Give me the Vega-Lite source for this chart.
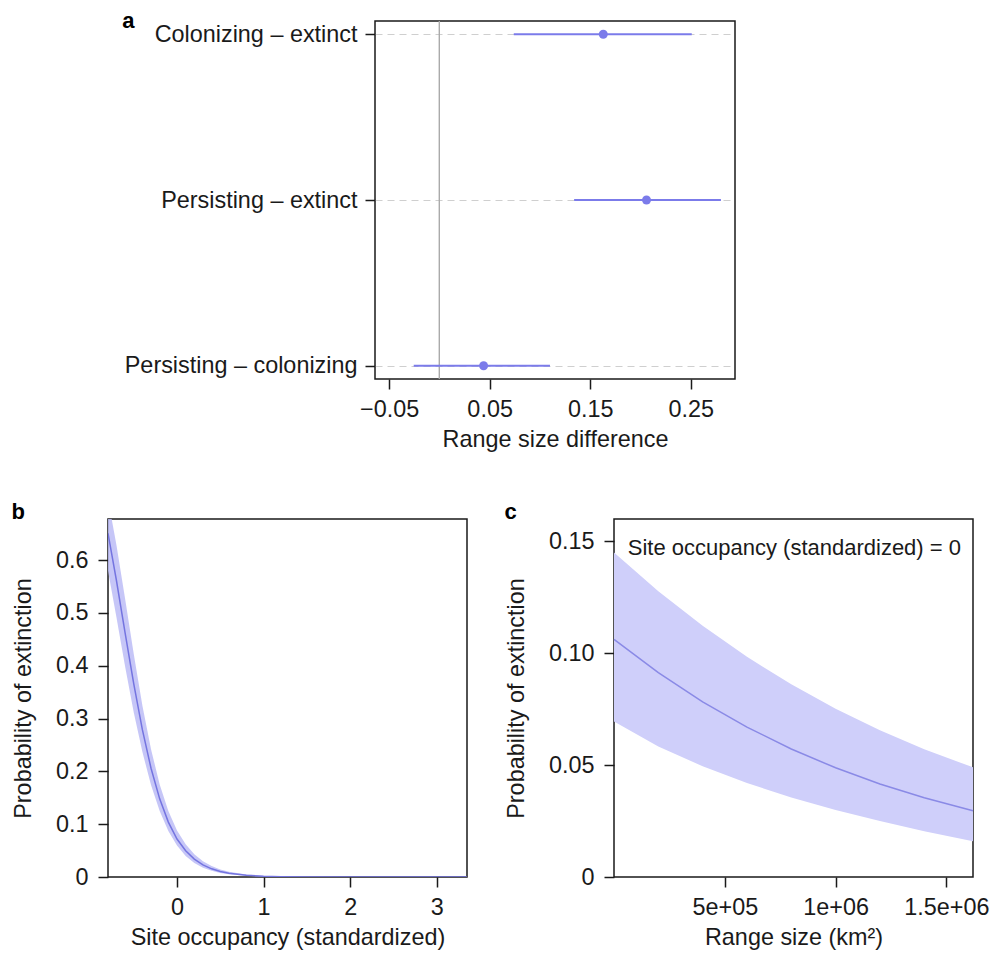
{
  "$schema": "https://vega.github.io/schema/vega-lite/v6.json",
  "padding": {"left": 10, "top": 8, "right": 0, "bottom": 0},
  "background": "white",
  "config": {
    "font": "Liberation Sans",
    "view": {"stroke": "#1a1a1a", "strokeWidth": 1.5},
    "axis": {
      "domain": false, "grid": false, "labelLimit": 0,
      "tickColor": "#1a1a1a", "tickWidth": 1.5, "tickSize": 10,
      "labelFont": "Liberation Sans", "labelFontSize": 23.4, "labelColor": "#1a1a1a",
      "titleFont": "Liberation Sans", "titleFontSize": 23.4, "titleFontWeight": "normal", "titleColor": "#1a1a1a"
    },
    "axisX": {"labelPadding": 9, "titlePadding": 8},
    "axisY": {"labelPadding": 10, "titlePadding": 20},
    "title": {"fontSize": 22, "fontWeight": "bold", "anchor": "start", "frame": "bounds", "color": "#000000", "baseline": "alphabetic", "font": "Liberation Sans"}
  },
  "spacing": 48,
  "vconcat": [
    {
      "spacing": 0,
      "hconcat": [
        {
          "width": 13, "height": 358,
          "view": {"stroke": null},
          "data": {"values": [{"t": ""}]},
          "mark": {"type": "text"},
          "encoding": {"text": {"field": "t"}}
        },
        {
          "width": 360, "height": 358,
          "title": {"text": "a", "offset": -12, "dx": -2},
          "data": {"values": [
            {"comp": "Colonizing – extinct", "est": 0.163, "lo": 0.074, "hi": 0.251},
            {"comp": "Persisting – extinct", "est": 0.206, "lo": 0.134, "hi": 0.280},
            {"comp": "Persisting – colonizing", "est": 0.044, "lo": -0.0255, "hi": 0.110}
          ]},
          "layer": [
            {
              "mark": {"type": "rule", "color": "#aaaaaa", "strokeWidth": 1},
              "encoding": {
                "x": {"datum": 0, "type": "quantitative", "scale": {"domain": [-0.064, 0.294], "nice": false, "zero": false},
                      "axis": {"values": [-0.05, 0.05, 0.15, 0.25], "format": ".2f", "title": "Range size difference"}}
              }
            },
            {
              "mark": {"type": "rule", "color": "#7b7bea", "strokeWidth": 2},
              "encoding": {
                "y": {"field": "comp", "type": "nominal", "sort": null,
                      "scale": {"type": "point", "padding": 0.08, "domain": ["Colonizing – extinct", "Persisting – extinct", "Persisting – colonizing"]},
                      "axis": {"title": null, "grid": true, "gridDash": [7, 5], "gridColor": "#cfcfcf", "gridWidth": 1, "labelPadding": 8}},
                "x": {"field": "lo", "type": "quantitative", "scale": {"domain": [-0.064, 0.294], "nice": false, "zero": false},
                      "axis": {"values": [-0.05, 0.05, 0.15, 0.25], "format": ".2f", "title": "Range size difference"}},
                "x2": {"field": "hi"}
              }
            },
            {
              "mark": {"type": "circle", "size": 80, "color": "#7b7bea", "opacity": 1},
              "encoding": {
                "y": {"field": "comp", "type": "nominal", "sort": null,
                      "scale": {"type": "point", "padding": 0.08, "domain": ["Colonizing – extinct", "Persisting – extinct", "Persisting – colonizing"]},
                      "axis": {"title": null, "grid": true, "gridDash": [7, 5], "gridColor": "#cfcfcf", "gridWidth": 1, "labelPadding": 8}},
                "x": {"field": "est", "type": "quantitative", "scale": {"domain": [-0.064, 0.294], "nice": false, "zero": false},
                      "axis": {"values": [-0.05, 0.05, 0.15, 0.25], "format": ".2f", "title": "Range size difference"}}
              }
            }
          ]
        }
      ]
    },
    {
      "spacing": 35,
      "hconcat": [
        {
          "width": 359, "height": 358,
          "title": {"text": "b", "offset": -5},
          "data": {"values": [
            {"x": -0.797, "p": 0.651, "lo": 0.580, "hi": 0.716},
            {"x": -0.7, "p": 0.562, "lo": 0.4925, "hi": 0.629},
            {"x": -0.6, "p": 0.463, "lo": 0.399, "hi": 0.5275},
            {"x": -0.5, "p": 0.366, "lo": 0.312, "hi": 0.423},
            {"x": -0.4, "p": 0.279, "lo": 0.237, "hi": 0.325},
            {"x": -0.3, "p": 0.206, "lo": 0.174, "hi": 0.242},
            {"x": -0.2, "p": 0.148, "lo": 0.125, "hi": 0.175},
            {"x": -0.1, "p": 0.104, "lo": 0.087, "hi": 0.125},
            {"x": 0.0, "p": 0.072, "lo": 0.0595, "hi": 0.0879},
            {"x": 0.1, "p": 0.0497, "lo": 0.0399, "hi": 0.0618},
            {"x": 0.2, "p": 0.0339, "lo": 0.0266, "hi": 0.0431},
            {"x": 0.3, "p": 0.0230, "lo": 0.0176, "hi": 0.0299},
            {"x": 0.4, "p": 0.0155, "lo": 0.0117, "hi": 0.0206},
            {"x": 0.5, "p": 0.0105, "lo": 0.0077, "hi": 0.0142},
            {"x": 0.6, "p": 0.0070, "lo": 0.0051, "hi": 0.0098},
            {"x": 0.8, "p": 0.0032, "lo": 0.0022, "hi": 0.0046},
            {"x": 1.0, "p": 0.0014, "lo": 0.0009, "hi": 0.0021},
            {"x": 1.2, "p": 0.0006, "lo": 0.0004, "hi": 0.0010},
            {"x": 1.5, "p": 0.0002, "lo": 0.0001, "hi": 0.0003},
            {"x": 2.0, "p": 0.0, "lo": 0.0, "hi": 0.0001},
            {"x": 2.5, "p": 0.0, "lo": 0.0, "hi": 0.0},
            {"x": 3.0, "p": 0.0, "lo": 0.0, "hi": 0.0},
            {"x": 3.35, "p": 0.0, "lo": 0.0, "hi": 0.0}
          ]},
          "encoding": {
            "x": {"field": "x", "type": "quantitative", "scale": {"domain": [-0.797, 3.35], "nice": false, "zero": false},
                  "axis": {"values": [0, 1, 2, 3], "title": "Site occupancy (standardized)"}}
          },
          "layer": [
            {
              "mark": {"type": "area", "color": "#bcbcf6", "opacity": 0.85, "clip": true},
              "encoding": {
                "y": {"field": "lo", "type": "quantitative", "scale": {"domain": [0, 0.678], "nice": false},
                      "axis": {"values": [0, 0.1, 0.2, 0.3, 0.4, 0.5, 0.6], "labelExpr": "datum.value === 0 ? '0' : format(datum.value, '.1f')", "title": "Probability of extinction"}},
                "y2": {"field": "hi"}
              }
            },
            {
              "mark": {"type": "line", "color": "#7474e0", "strokeWidth": 1.5, "clip": true},
              "encoding": {
                "y": {"field": "p", "type": "quantitative", "scale": {"domain": [0, 0.678], "nice": false},
                      "axis": {"values": [0, 0.1, 0.2, 0.3, 0.4, 0.5, 0.6], "labelExpr": "datum.value === 0 ? '0' : format(datum.value, '.1f')", "title": "Probability of extinction"}}
              }
            }
          ]
        },
        {
          "width": 359, "height": 358,
          "title": {"text": "c", "offset": -5},
          "data": {"values": [
            {"x": 0, "p": 0.1062, "lo": 0.0695, "hi": 0.1450},
            {"x": 200000, "p": 0.0913, "lo": 0.0583, "hi": 0.1277},
            {"x": 400000, "p": 0.0783, "lo": 0.0495, "hi": 0.1123},
            {"x": 600000, "p": 0.0670, "lo": 0.0420, "hi": 0.0984},
            {"x": 800000, "p": 0.0572, "lo": 0.0355, "hi": 0.0861},
            {"x": 1000000, "p": 0.0488, "lo": 0.0300, "hi": 0.0752},
            {"x": 1200000, "p": 0.0416, "lo": 0.0250, "hi": 0.0656},
            {"x": 1400000, "p": 0.0354, "lo": 0.0205, "hi": 0.0571},
            {"x": 1620000, "p": 0.0296, "lo": 0.0160, "hi": 0.0490}
          ]},
          "encoding": {
            "x": {"field": "x", "type": "quantitative", "scale": {"domain": [0, 1620000], "nice": false, "zero": false},
                  "axis": {"values": [500000, 1000000, 1500000], "labelExpr": "datum.value === 500000 ? '5e+05' : datum.value === 1000000 ? '1e+06' : '1.5e+06'", "title": "Range size (km²)"}}
          },
          "layer": [
            {
              "mark": {"type": "area", "color": "#cfcffa", "opacity": 1},
              "encoding": {
                "y": {"field": "lo", "type": "quantitative", "scale": {"domain": [0, 0.16], "nice": false},
                      "axis": {"values": [0, 0.05, 0.1, 0.15], "labelExpr": "datum.value === 0 ? '0' : format(datum.value, '.2f')", "title": "Probability of extinction"}},
                "y2": {"field": "hi"}
              }
            },
            {
              "mark": {"type": "line", "color": "#8a8ae6", "strokeWidth": 1.5},
              "encoding": {
                "y": {"field": "p", "type": "quantitative", "scale": {"domain": [0, 0.16], "nice": false},
                      "axis": {"values": [0, 0.05, 0.1, 0.15], "labelExpr": "datum.value === 0 ? '0' : format(datum.value, '.2f')", "title": "Probability of extinction"}}
              }
            },
            {
              "transform": [{"filter": "datum.x === 0"}],
              "mark": {"type": "text", "align": "left", "baseline": "middle", "fontSize": 22, "color": "#1a1a1a", "font": "Liberation Sans", "text": "Site occupancy (standardized) = 0"},
              "encoding": {
                "x": {"datum": 62000, "type": "quantitative"},
                "y": {"datum": 0.147, "type": "quantitative"}
              }
            }
          ]
        }
      ]
    }
  ]
}
